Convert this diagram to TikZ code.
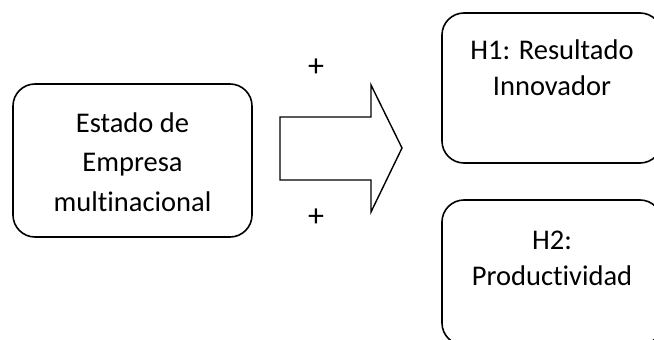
\documentclass[tikz,border=0pt]{standalone}
\usepackage{fontspec}
\setmainfont[Ligatures=NoCommon]{Carlito}
\begin{document}
\begin{tikzpicture}[x=1pt,y=-1pt,
  box/.style={draw=black,line width=1.6pt,rounded corners=22pt,inner sep=0pt},
  lbl/.style={font=\fontsize{28.5}{38}\selectfont,align=center,inner sep=0pt},
  sign/.style={font=\fontsize{32}{36}\selectfont,inner sep=0pt},
  bigarrow/.style={draw=black,line width=1.4pt,line join=miter}]
\useasboundingbox (0,0) rectangle (654,340);
\clip (0,0) rectangle (654,340);

% source box
\node[box,minimum width=239pt,minimum height=153pt] (src) at (132.5,160.5) {};
\node[lbl,anchor=base] (srcA) at (132.5,132) {Estado de};
\node[lbl,anchor=base] (srcB) at (132.5,171.5) {Empresa};
\node[lbl,anchor=base] (srcC) at (132.5,211) {multinacional};

% block arrow
\coordinate (a1) at (280,117);
\coordinate (a2) at (371,117);
\coordinate (a3) at (371,85);
\coordinate (tip) at (402,148);
\coordinate (a5) at (371,212);
\coordinate (a6) at (371,180);
\coordinate (a7) at (280,180);
\draw[bigarrow] (a1) -- (a2) -- (a3) -- (tip) -- (a5) -- (a6) -- (a7) -- cycle;
\node[sign] (plusTop) at (316,68) {+};
\node[sign] (plusBot) at (316,218) {+};

% outcome boxes
\node[box,minimum width=220pt,minimum height=150pt] (h1) at (552,88) {};
\node[lbl,anchor=base] (h1A) at (552,59) {H1: Resultado};
\node[lbl,anchor=base] (h1B) at (552,95) {Innovador};

\node[box,minimum width=220pt,minimum height=145pt] (h2) at (552,272.5) {};
\node[lbl,anchor=base] (h2A) at (552,249) {H2:};
\node[lbl,anchor=base] (h2B) at (552,285) {Productividad};
\end{tikzpicture}
\end{document}
